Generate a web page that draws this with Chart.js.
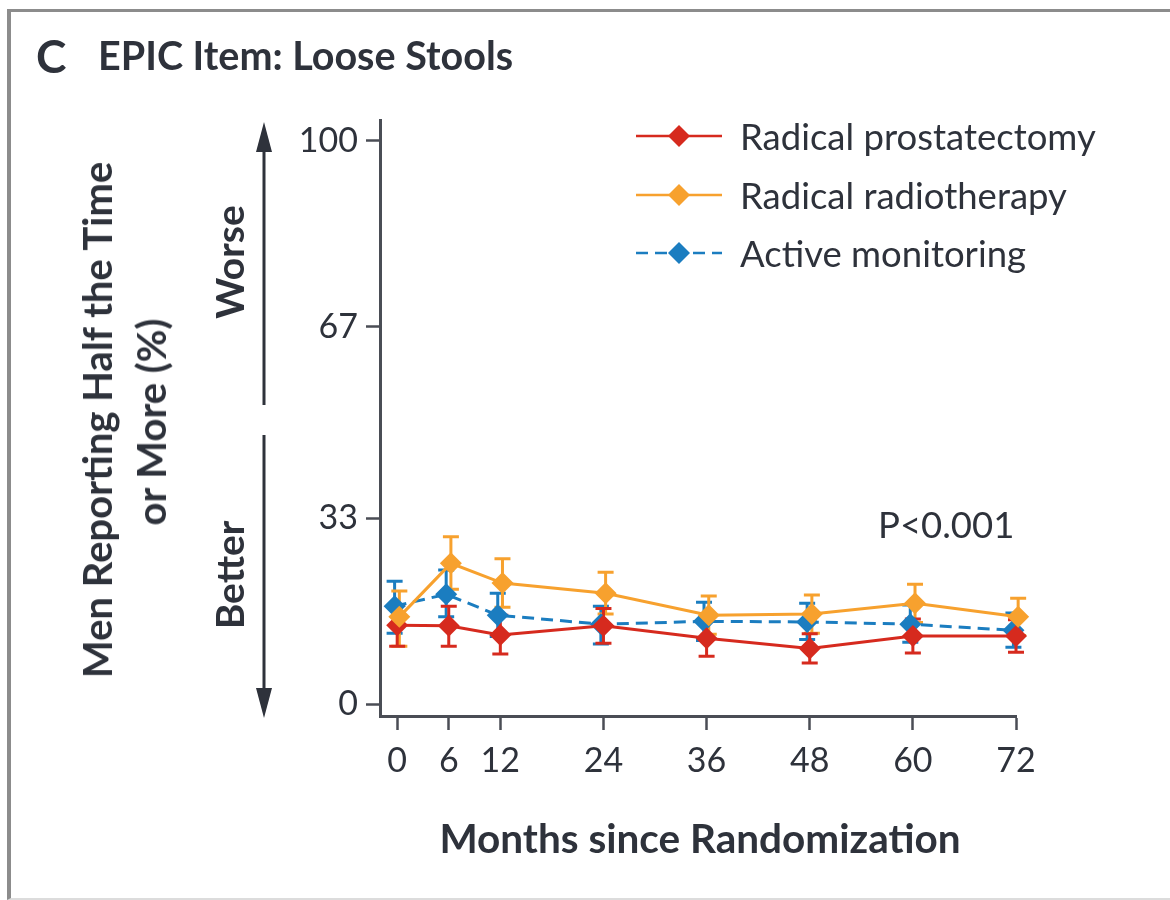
<!DOCTYPE html>
<html>
<head>
<meta charset="utf-8">
<script src="https://cdn.jsdelivr.net/npm/chart.js@4.4.1/dist/chart.umd.min.js"></script>
<style>
  html, body { margin: 0; padding: 0; background: #fff; }
  body { width: 1170px; height: 900px; position: relative; overflow: hidden; font-family: Lato, "Open Sans", sans-serif; color: #2e323b; }
  #frame { position: absolute; left: 7px; top: 9px; width: 1170px; height: 886px; border-top: 3px solid #8c8c8c; border-left: 4px solid #8c8c8c; border-bottom: 2px solid #dcdcdc; }
  #chart { position: absolute; left: 0; top: 0; }
  .txt { position: absolute; white-space: nowrap; }
  .bold { font-weight: 700; }
  .rot { transform: translate(-50%, -50%) rotate(-90deg); }
  .legend-row { position: absolute; left: 632px; height: 44px; display: flex; align-items: center; }
  .legend-row span { font-size: 36.5px; margin-left: 16px; }
</style>
</head>
<body>
<div id="frame"></div>
<canvas id="chart" width="1170" height="900"></canvas>

<div class="txt bold" style="left:36px; top:28px; font-size:46px;">C</div>
<div class="txt bold" style="left:98px; top:31px; font-size:39.5px;">EPIC Item: Loose Stools</div>

<div class="txt bold rot" style="left:97px; top:420px; font-size:40px;">Men Reporting Half the Time</div>
<div class="txt bold rot" style="left:151px; top:422px; font-size:40px;">or More (%)</div>
<div class="txt bold rot" style="left:229px; top:262px; font-size:39px;">Worse</div>
<div class="txt bold rot" style="left:229px; top:575px; font-size:39px;">Better</div>

<svg class="txt" style="left:0; top:0;" width="1170" height="900">
  <g stroke="#2e323b" stroke-width="3" fill="#2e323b">
    <line x1="264" y1="140" x2="264" y2="405"/>
    <polygon points="264,122 256,152 272,152" stroke="none"/>
    <line x1="264" y1="435" x2="264" y2="700"/>
    <polygon points="264,718 256,688 272,688" stroke="none"/>
  </g>
</svg>

<div class="txt" style="left:878px; top:502px; font-size:36.5px;">P&lt;0.001</div>
<div class="txt bold" style="left:700px; top:813px; font-size:40.5px; transform:translateX(-50%);">Months since Randomization</div>

<div id="legend"></div>

<script>
// ---- data ----
const months = [0, 6, 12, 24, 36, 48, 60, 72];
const yTicks = [0, 33, 67, 100];

const prostatectomy      = [14.0, 13.9, 12.3, 13.9, 11.7, 9.9, 12.1, 12.1];
const prostatectomyLow   = [10.3, 10.3, 8.9, 10.8, 8.5, 7.3, 9.1, 9.2];
const prostatectomyHigh  = [17.5, 17.4, 15.8, 17.0, 14.9, 12.5, 15.1, 15.0];

const radiotherapy       = [15.5, 25.0, 21.5, 19.7, 15.8, 16.0, 17.9, 15.5];
const radiotherapyLow    = [10.3, 20.4, 17.2, 16.0, 12.4, 12.6, 14.5, 12.2];
const radiotherapyHigh   = [20.1, 29.7, 25.8, 23.4, 19.2, 19.4, 21.3, 18.8];

const monitoring         = [17.4, 19.5, 15.8, 14.2, 14.7, 14.6, 14.2, 13.1];
const monitoringLow      = [12.6, 15.5, 12.0, 10.7, 11.3, 11.5, 11.0, 10.1];
const monitoringHigh     = [21.8, 23.8, 19.7, 17.4, 18.1, 17.9, 17.6, 16.2];

const RED = '#d62a1e', ORANGE = '#f7a12e', BLUE = '#1b7dc0';

const series = [
  { label: 'Radical prostatectomy', vals: prostatectomy, low: prostatectomyLow, high: prostatectomyHigh, color: RED, dash: [], shift: 0, order: 1 },
  { label: 'Radical radiotherapy', vals: radiotherapy, low: radiotherapyLow, high: radiotherapyHigh, color: ORANGE, dash: [], shift: 0.25, order: 0 },
  { label: 'Active monitoring', vals: monitoring, low: monitoringLow, high: monitoringHigh, color: BLUE, dash: [12, 7], shift: -0.3, order: 2 }
];

// legend (html)
const legend = document.getElementById('legend');
series.forEach((s, i) => {
  const row = document.createElement('div');
  row.className = 'legend-row';
  row.style.top = (114 + i * 58.5) + 'px';
  row.innerHTML =
    `<svg width="92" height="30"><line x1="4" y1="15" x2="90" y2="15" stroke="${s.color}" stroke-width="2.5" stroke-dasharray="${s.dash.join(',')}"/>` +
    `<polygon points="47,4 58,15 47,26 36,15" fill="${s.color}"/></svg><span>${s.label}</span>`;
  legend.appendChild(row);
});

// error bars under the markers
const errorBars = {
  id: 'errorBars',
  beforeDatasetsDraw(chart) {
    const { ctx, scales: { x, y } } = chart;
    [...chart.data.datasets].reverse().forEach(ds => {
      ctx.save();
      ctx.strokeStyle = ds.borderColor;
      ctx.lineWidth = 3;
      ds.data.forEach((p, j) => {
        const px = x.getPixelForValue(p.x);
        const lo = y.getPixelForValue(ds.errLow[j]);
        const hi = y.getPixelForValue(ds.errHigh[j]);
        ctx.beginPath();
        ctx.moveTo(px, lo); ctx.lineTo(px, hi);
        ctx.moveTo(px - 8, lo); ctx.lineTo(px + 8, lo);
        ctx.moveTo(px - 8, hi); ctx.lineTo(px + 8, hi);
        ctx.stroke();
      });
      ctx.restore();
    });
  }
};

const tickFont = { family: 'Lato', size: 34, weight: '400' };

new Chart(document.getElementById('chart'), {
  type: 'line',
  data: {
    datasets: series.map(s => ({
      label: s.label,
      data: months.map((m, i) => ({ x: m + s.shift, y: s.vals[i] })),
      errLow: s.low,
      errHigh: s.high,
      borderColor: s.color,
      backgroundColor: s.color,
      borderWidth: 3,
      borderDash: s.dash,
      pointStyle: 'rectRot',
      pointRadius: 11,
      pointBorderWidth: 0,
      order: s.order,
      clip: false,
      tension: 0
    }))
  },
  options: {
    responsive: false,
    animation: false,
    layout: { padding: { left: 290, right: 154, top: 120, bottom: 84 } },
    plugins: { legend: { display: false }, tooltip: { enabled: false } },
    scales: {
      x: {
        type: 'linear',
        min: -2,
        max: 72,
        afterFit(scale) { scale.height = 100; },
        afterBuildTicks(scale) { scale.ticks = months.map(v => ({ value: v })); },
        border: { display: true, color: '#4a4d55', width: 3 },
        grid: { display: true, drawOnChartArea: false, drawTicks: true, tickLength: 14, tickColor: '#4a4d55', tickWidth: 2.5 },
        ticks: { color: '#2e323b', font: tickFont, padding: 11, maxRotation: 0, autoSkip: false }
      },
      y: {
        min: -2.1,
        max: 103.7,
        afterFit(scale) { scale.width = 90; },
        afterBuildTicks(scale) { scale.ticks = yTicks.map(v => ({ value: v })); },
        border: { display: true, color: '#4a4d55', width: 3 },
        grid: { display: true, drawOnChartArea: false, drawTicks: true, tickLength: 14, tickColor: '#4a4d55', tickWidth: 2.5 },
        ticks: { color: '#2e323b', font: tickFont, padding: 8 }
      }
    }
  },
  plugins: [errorBars]
});
</script>
</body>
</html>
